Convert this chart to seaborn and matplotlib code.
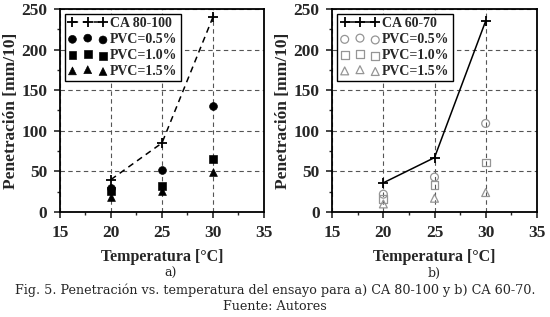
import numpy as np
import pandas as pd
import matplotlib
matplotlib.use("Agg")
import matplotlib.pyplot as plt
from matplotlib.ticker import MultipleLocator
import seaborn as sns

# temperatures of the test
temp = [20, 25, 30]

# a) CA 80-100
ca80 = [40, 85, 240]
ca80_pvc05 = [30, 52, 130]
ca80_pvc10 = [26, 32, 65]
ca80_pvc15 = [18, 26, 49]

# b) CA 60-70
ca60 = [36, 67, 235]
ca60_pvc05 = [22, 43, 109]
ca60_pvc10 = [16, 33, 61]
ca60_pvc15 = [10, 17, 24]

pvc_labels = ["PVC=0.5%", "PVC=1.0%", "PVC=1.5%"]
pvc_markers = ["o", "s", "^"]

sns.set_style("ticks")
plt.rcParams['font.family'] = ['Liberation Serif', 'DejaVu Serif']
plt.rcParams['font.weight'] = 'bold'
plt.rcParams['axes.labelweight'] = 'bold'

fig = plt.figure(figsize=(5.5, 3.17), dpi=100)
ax1 = fig.add_axes([0.109, 0.331, 0.371, 0.641])
ax2 = fig.add_axes([0.604, 0.331, 0.372, 0.641])


def draw_panel(ax, base, base_label, pvc_series, filled, linestyle):
    df = pd.DataFrame({"T": temp, "P": base})
    sns.lineplot(data=df, x="T", y="P", ax=ax, color="black", linestyle=linestyle,
                 marker="+", markersize=7, markeredgewidth=1.3, markeredgecolor="black",
                 linewidth=1.1, label=base_label)
    for vals, lab, mk in zip(pvc_series, pvc_labels, pvc_markers):
        d = pd.DataFrame({"T": temp, "P": vals})
        if filled:
            sns.scatterplot(data=d, x="T", y="P", ax=ax, marker=mk, s=32,
                            color="black", edgecolor="black", label=lab, zorder=3)
        else:
            sns.scatterplot(data=d, x="T", y="P", ax=ax, marker=mk, s=32,
                            facecolor="none", edgecolor="#959595", linewidth=0.9,
                            label=lab, zorder=3)
    ax.set_xlim(15, 35)
    ax.set_ylim(0, 250)
    ax.xaxis.set_major_locator(MultipleLocator(5))
    ax.xaxis.set_minor_locator(MultipleLocator(2.5))
    ax.yaxis.set_major_locator(MultipleLocator(50))
    ax.yaxis.set_minor_locator(MultipleLocator(25))
    ax.grid(True, which="major", linestyle=(0, (4, 3)), color="#555555", linewidth=0.8)
    ax.tick_params(which="major", direction="out", length=4, width=1.2, labelsize=12.5, pad=5)
    ax.tick_params(which="minor", direction="out", length=2.5, width=1.0)
    for sp in ax.spines.values():
        sp.set_linewidth(1.3)
        sp.set_color("black")
    for lbl in ax.get_xticklabels() + ax.get_yticklabels():
        lbl.set_fontweight("bold")
    ax.set_xlabel("Temperatura [°C]", fontsize=11.5, fontweight="bold", labelpad=6)
    ax.set_ylabel("Penetración [mm/10]", fontsize=12.5, fontweight="bold", labelpad=2)
    leg = ax.legend(loc="upper left", numpoints=3, scatterpoints=3, fancybox=False,
                    framealpha=1, edgecolor="black", handlelength=2.8,
                    handletextpad=0.2, borderpad=0.25, labelspacing=0.2,
                    borderaxespad=0.35, prop={"weight": "bold", "size": 10})
    leg.get_frame().set_linewidth(1.0)


draw_panel(ax1, ca80, "CA 80-100", [ca80_pvc05, ca80_pvc10, ca80_pvc15], True, (0, (4, 3)))
draw_panel(ax2, ca60, "CA 60-70", [ca60_pvc05, ca60_pvc10, ca60_pvc15], False, "-")

cap = dict(family=['DejaVu Serif'], fontweight="normal", ha="center", va="center")
fig.text(0.31, 1 - 273 / 317, "a)", fontsize=9, **cap)
fig.text(0.79, 1 - 273 / 317, "b)", fontsize=9, **cap)
fig.text(0.5, 1 - 290 / 317, "Fig. 5. Penetración vs. temperatura del ensayo para a) CA 80-100 y b) CA 60-70.",
         fontsize=9.2, **cap)
fig.text(0.5, 1 - 306 / 317, "Fuente: Autores", fontsize=9.2, **cap)

fig.savefig("out.png", dpi=100)
